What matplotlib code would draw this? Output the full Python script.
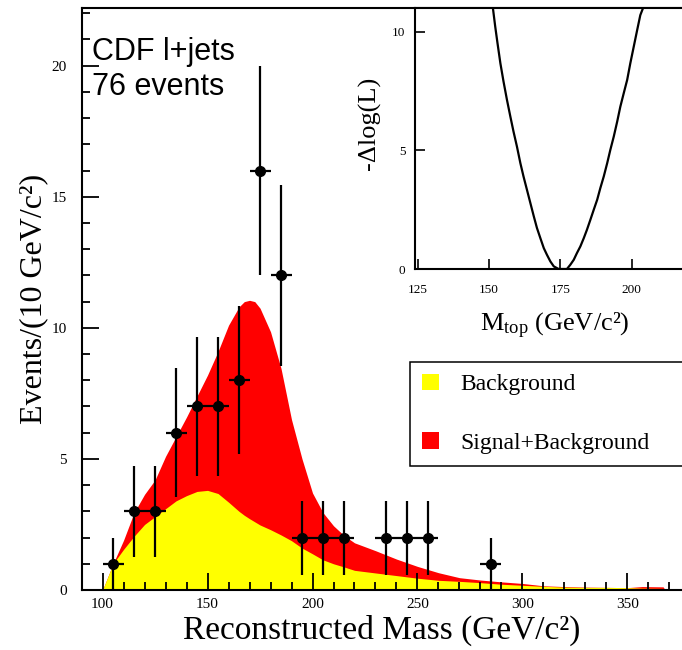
import matplotlib
matplotlib.use("Agg")
import matplotlib.pyplot as plt
from matplotlib.patches import Patch
from matplotlib.ticker import MultipleLocator

plt.rcParams['font.family'] = ['Liberation Serif', 'DejaVu Serif']
plt.rcParams['mathtext.fontset'] = 'custom'
plt.rcParams['mathtext.rm'] = 'Liberation Serif'
plt.rcParams['mathtext.it'] = 'Liberation Serif:italic'

# Observed events per 10 GeV/c^2 bin
bin_centres = [105, 115, 125, 135, 145, 155, 165, 175, 185, 195, 205, 215, 235, 245, 255, 285]
counts = [1, 3, 3, 6, 7, 7, 8, 16, 12, 2, 2, 2, 2, 2, 2, 1]
count_errors = [1.0, 1.73, 1.73, 2.45, 2.65, 2.65, 2.83, 4.0, 3.46, 1.41, 1.41, 1.41, 1.41, 1.41, 1.41, 1.0]
bin_half_width = 5

# Expected shapes: signal+background and background only
mass_grid = [100, 105, 110, 115, 120, 125, 130, 135, 140, 145,
             150, 155, 160, 165, 167.5, 170, 172.5, 175, 180, 185, 190, 195,
             200, 205, 210, 215, 220, 230, 240, 250, 260, 270,
             280, 290, 300, 310, 320, 330, 340, 350, 357, 367, 368]
sig_bkg = [0, 1.0, 1.9, 2.95, 3.65, 4.2, 5.1, 5.85, 6.6, 7.4,
           8.2, 9.1, 10.1, 10.8, 11.0, 11.05, 11.0, 10.75, 9.85, 8.45, 6.5, 5.0,
           3.7, 2.95, 2.45, 2.08, 1.8, 1.5, 1.18, 0.9, 0.66, 0.47,
           0.38, 0.31, 0.25, 0.16, 0.13, 0.11, 0.1, 0.09, 0.13, 0.12, 0]
bkg = [0, 1.0, 1.55, 2.05, 2.5, 2.8, 3.1, 3.4, 3.6, 3.76,
       3.8, 3.68, 3.35, 3.0, 2.85, 2.72, 2.6, 2.48, 2.3, 2.1, 1.88, 1.6,
       1.38, 1.15, 1.0, 0.88, 0.75, 0.65, 0.55, 0.45, 0.37, 0.33,
       0.28, 0.22, 0.18, 0.14, 0.11, 0.1, 0.1, 0.09, 0.07, 0.06, 0]

# Likelihood scan versus top mass
mtop_scan = [151.4, 152.2, 153.0, 154.0, 155.1, 156.3, 157.5, 158.6, 159.8, 161.0,
             162.1, 163.3, 164.5, 165.7, 166.8, 168.0, 169.2, 170.3, 171.5, 172.7,
             174.4, 175.8, 177.3, 178.5, 179.7, 180.8, 182.0, 183.2, 184.3, 185.5,
             186.7, 187.9, 189.0, 190.2, 191.4, 192.5, 193.7, 194.9, 196.0, 197.2,
             198.4, 199.5, 200.7, 201.9, 203.0, 203.9]
neg_dlogl = [10.98, 10.21, 9.51, 8.67, 7.90, 7.13, 6.42, 5.79, 5.16, 4.46,
             3.90, 3.34, 2.78, 2.22, 1.73, 1.30, 0.88, 0.60, 0.32, 0.11,
             0.0, 0.0, 0.0, 0.18, 0.39, 0.67, 0.95, 1.30, 1.65, 2.07,
             2.50, 2.92, 3.41, 3.90, 4.46, 5.02, 5.58, 6.21, 6.84, 7.41,
             7.97, 8.67, 9.37, 10.07, 10.70, 10.98]

main_xticks = [100, 150, 200, 250, 300, 350]
main_yticks = [0, 5, 10, 15, 20]
inset_xticks = [125, 150, 175, 200]
inset_yticks = [0, 5, 10]

W, H = 682, 650
fig = plt.figure(figsize=(W / 100, H / 100), dpi=100)

# Main panel
ax = fig.add_axes([82 / W, 60 / H, 600 / W, 582 / H])
ax.fill_between(mass_grid, sig_bkg, color='#ff0000', lw=0, zorder=1)
ax.fill_between(mass_grid, bkg, color='#ffff00', lw=0, zorder=1.1)
ax.errorbar(bin_centres, counts, xerr=bin_half_width, yerr=count_errors,
            fmt='o', color='black', ms=7, elinewidth=1.6, capsize=0, zorder=3)

ax.set_xlim(90.2, 376)
ax.set_ylim(0, 22.2)
ax.set_xticks(main_xticks)
ax.set_yticks(main_yticks)
ax.xaxis.set_minor_locator(MultipleLocator(10))
ax.yaxis.set_minor_locator(MultipleLocator(1))
ax.tick_params(which='major', direction='in', length=12, width=1.3, labelsize=11)
ax.tick_params(which='minor', direction='in', length=6, width=1.3)
ax.tick_params(axis='y', which='both', pad=11)
ax.tick_params(axis='x', which='both', pad=6)
ax.tick_params(top=False, right=False)
ax.spines['right'].set_visible(False)
for s in ('left', 'bottom', 'top'):
    ax.spines[s].set_linewidth(1.5)

ax.set_xlabel('Reconstructed Mass (GeV/c²)', fontsize=24)
ax.xaxis.label.set_va('center')
ax.xaxis.set_label_coords(0.5, -0.07)
ax.set_ylabel('Events/(10 GeV/c²)', fontsize=23)
ax.yaxis.label.set_va('center')
ax.yaxis.set_label_coords(-0.08, 0.5)

handles = [Patch(facecolor='#ffff00', edgecolor='none'),
           Patch(facecolor='#ff0000', edgecolor='none')]
leg = ax.legend(handles, ['Background', 'Signal+Background'],
                loc='upper left', mode='expand',
                bbox_to_anchor=(410 / W, (H - 362) / H - 0.01, 0.45, 0.01),
                bbox_transform=fig.transFigure, borderaxespad=0,
                fontsize=17, handlelength=0.72, handleheight=0.68,
                handletextpad=0.9, labelspacing=1.58, borderpad=0.5,
                fancybox=False, framealpha=1, edgecolor='black')
leg.get_frame().set_linewidth(1.1)

fig.text(92 / W, 0.943, 'CDF l+jets\n76 events', family='Liberation Sans',
         fontsize=22, va='top', ha='left', linespacing=1.2)

# Inset: likelihood scan
axi = fig.add_axes([415 / W, (H - 269) / H, 267 / W, 261 / H])
axi.set_facecolor('white')
axi.plot(mtop_scan, neg_dlogl, color='black', lw=1.6)
axi.set_xlim(124.1, 217.6)
axi.set_ylim(0, 11)
axi.set_xticks(inset_xticks)
axi.set_yticks(inset_yticks)
axi.tick_params(direction='in', length=7, width=1.2, labelsize=9.5)
axi.tick_params(axis='x', pad=11)
axi.tick_params(axis='y', pad=7)
axi.spines['right'].set_visible(False)
for s in ('left', 'bottom', 'top'):
    axi.spines[s].set_linewidth(1.5)
axi.set_ylabel('-Δlog(L)', fontsize=19)
axi.yaxis.label.set_va('center')
axi.yaxis.set_label_coords(-0.172, 0.559)
axi.set_xlabel(r'M$_{\mathrm{top}}$ (GeV/c²)', fontsize=19)
axi.xaxis.label.set_va('center')
axi.xaxis.set_label_coords(0.524, -0.217)

fig.savefig('out.png', dpi=100)
